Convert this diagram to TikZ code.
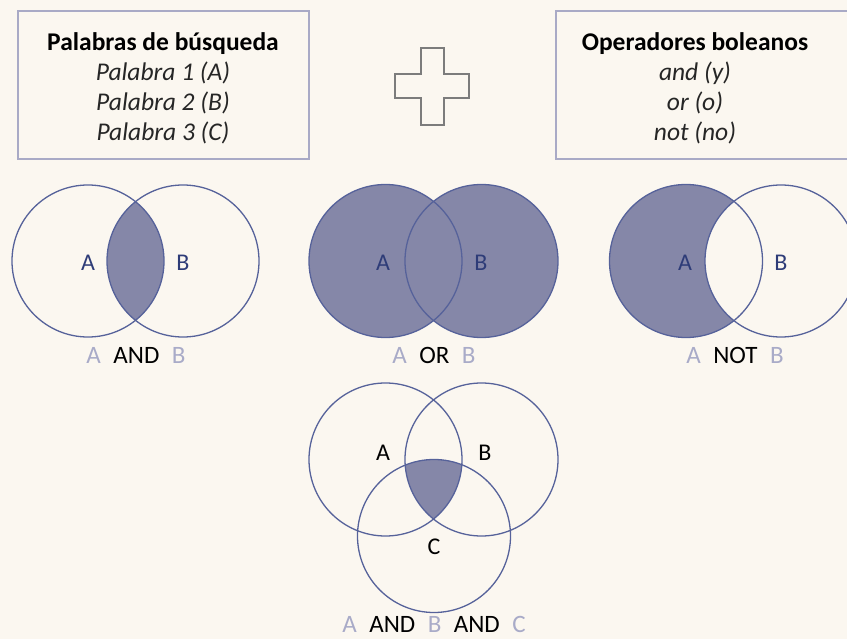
\documentclass[tikz,border=0pt]{standalone}
\usepackage{fontspec}
\setmainfont{Carlito}
\usepackage{tikz}

\definecolor{paper}{HTML}{FBF7F0}
\definecolor{setfill}{HTML}{8587A8}
\definecolor{setline}{HTML}{56629A}
\definecolor{setname}{HTML}{2E3C78}
\definecolor{setfaint}{HTML}{A9ABC8}
\definecolor{boxline}{HTML}{A9AAC6}
\definecolor{plusline}{HTML}{7C7C7C}

\begin{document}
\begin{tikzpicture}[x = 1pt, y = -1pt, line width = 1.3pt,
                        set/.style = {draw = setline},
                        frame/.style = {draw = boxline, line width = 1.8pt},
                        boxtext/.style = {align = center, font = \fontsize{25.5}{30}\selectfont},
                        inname/.style = {text = setname, font = \fontsize{24}{28}\selectfont},
                        plainname/.style = {text = black, font = \fontsize{24}{28}\selectfont},
                        caption/.style = {inner sep = 1pt, font = \fontsize{25}{30}\selectfont}]
      \fill [paper] (0, 0) rectangle (847, 639);
      \clip (0, 0) rectangle (847, 639);
      \draw [frame] (18, 11) rectangle (309, 159);
      \draw [frame] (556, 11) rectangle (870, 159);
      \node [boxtext] (words) at (163, 88) {\textbf{Palabras de búsqueda}\\ \color{black!85}\textit{Palabra 1 (A)}\\ \color{black!85}\textit{Palabra 2 (B)}\\ \color{black!85}\textit{Palabra 3 (C)}};
      \node [boxtext] (ops) at (695, 88) {\textbf{Operadores boleanos}\\ \color{black!85}\textit{and (y)}\\ \color{black!85}\textit{or (o)}\\ \color{black!85}\textit{not (no)}};
      \draw [plusline, line width = 1.5pt] (421, 48) -- (444, 48) -- (444, 74) -- (469, 74) -- (469, 98) -- (444, 98) -- (444, 125)
            -- (421, 125) -- (421, 98) -- (395, 98) -- (395, 74) -- (421, 74) -- cycle;
      \coordinate (a1) at (88, 261);
      \coordinate (b1) at (183, 261);
      \coordinate (a2) at (385.5, 261);
      \coordinate (b2) at (481.5, 261);
      \coordinate (a3) at (686, 261);
      \coordinate (b3) at (781, 261);
      \coordinate (a4) at (385.5, 459.5);
      \coordinate (b4) at (481.5, 459.5);
      \coordinate (c4) at (434, 536);
      \begin{scope}
        \clip (a1) circle [radius = 76pt];
        \fill [setfill] (b1) circle [radius = 76pt];
      \end{scope}
      \draw [set] (a1) circle [radius = 76pt];
      \draw [set] (b1) circle [radius = 76pt];
      \fill [setfill] (a2) circle [radius = 76.5pt];
      \fill [setfill] (b2) circle [radius = 76.5pt];
      \draw [set] (a2) circle [radius = 76.5pt];
      \draw [set] (b2) circle [radius = 76.5pt];
      \fill [setfill] (a3) circle [radius = 76.5pt];
      \fill [paper] (b3) circle [radius = 76pt];
      \draw [set] (a3) circle [radius = 76.5pt];
      \draw [set] (b3) circle [radius = 76pt];
      \begin{scope}
        \clip (a4) circle [radius = 76.5pt];
        \clip (b4) circle [radius = 76.5pt];
        \fill [setfill] (c4) circle [radius = 76.5pt];
      \end{scope}
      \draw [set] (a4) circle [radius = 76.5pt];
      \draw [set] (b4) circle [radius = 76.5pt];
      \draw [set] (c4) circle [radius = 76.5pt];
      \node [inname] (la1) at (88, 263) {A};
      \node [inname] (lb1) at (183, 263) {B};
      \node [inname] (la2) at (383, 263) {A};
      \node [inname] (lb2) at (481, 263) {B};
      \node [inname] (la3) at (685, 263) {A};
      \node [inname] (lb3) at (781, 263) {B};
      \node [plainname] (la4) at (383, 453) {A};
      \node [plainname] (lb4) at (485, 453) {B};
      \node [plainname] (lc4) at (434, 547) {C};
      \node [caption] (and1) at (136, 355) {\textcolor{setfaint}{A}\hspace{.5em}AND\hspace{.5em}\textcolor{setfaint}{B}};
      \node [caption] (or2) at (434, 355) {\textcolor{setfaint}{A}\hspace{.5em}OR\hspace{.5em}\textcolor{setfaint}{B}};
      \node [caption] (not3) at (735, 355) {\textcolor{setfaint}{A}\hspace{.5em}NOT\hspace{.5em}\textcolor{setfaint}{B}};
      \node [caption] (and4) at (434, 624) {\textcolor{setfaint}{A}\hspace{.5em}AND\hspace{.5em}\textcolor{setfaint}{B}\hspace{.5em}AND\hspace{.5em}\textcolor{setfaint}{C}};
    \end{tikzpicture}
\end{document}
